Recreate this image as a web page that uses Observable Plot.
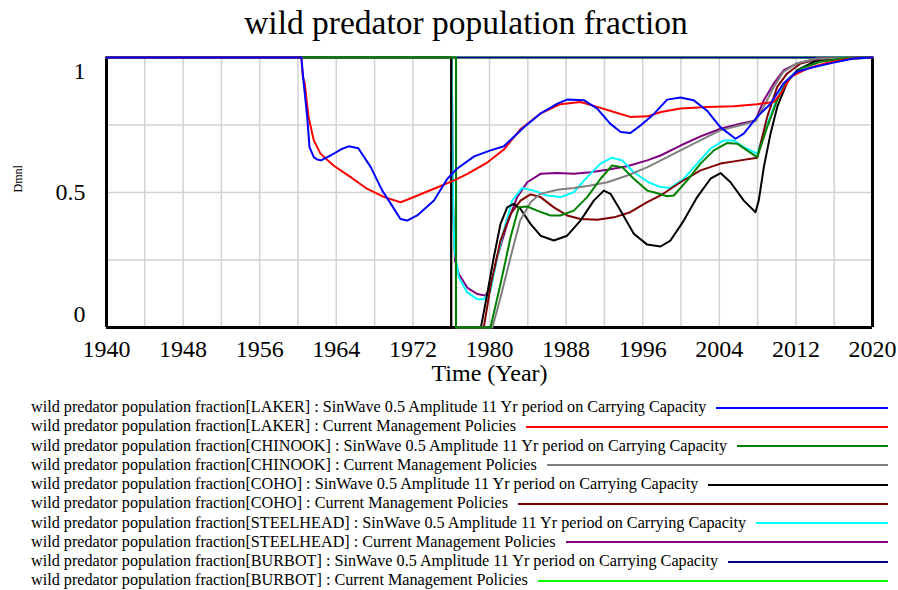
<!DOCTYPE html>
<html><head><meta charset="utf-8">
<script src="https://cdn.jsdelivr.net/npm/d3@7"></script>
<script src="https://cdn.jsdelivr.net/npm/@observablehq/plot@0.6"></script>
<style>
body{margin:0;background:#fff;font-family:"Liberation Serif","Times New Roman",serif;}
#title{height:45px;line-height:45px;font-size:33.5px;text-align:center;padding-left:34px;}
#chart{height:352px;}
#legend{padding-top:1px;}
.row{display:flex;align-items:center;height:19.25px;font-size:16.2px;padding-left:31px;padding-right:10px;white-space:nowrap;}
.row .ln{flex:1;margin-left:10px;height:2px;}
</style></head><body>
<div id="title">wild predator population fraction</div>
<div id="chart"></div>
<div id="legend"></div>
<script>
const xDomain = [1940, 2020];
const xTickYears = [1940, 1948, 1956, 1964, 1972, 1980, 1988, 1996, 2004, 2012, 2020];
const gridYears = [1944, 1948, 1952, 1956, 1960, 1964, 1968, 1972, 1976, 1980, 1984, 1988, 1992, 1996, 2000, 2004, 2008, 2012, 2016];
const gridVals = [0.25, 0.5, 0.75];
const yTicks = [1, 0.5, 0];
const yTickLabels = ["1", "0.5", "0"];

const seriesNames = [
  "wild predator population fraction[LAKER] : SinWave 0.5 Amplitude 11 Yr period on Carrying Capacity",
  "wild predator population fraction[LAKER] : Current Management Policies",
  "wild predator population fraction[CHINOOK] : SinWave 0.5 Amplitude 11 Yr period on Carrying Capacity",
  "wild predator population fraction[CHINOOK] : Current Management Policies",
  "wild predator population fraction[COHO] : SinWave 0.5 Amplitude 11 Yr period on Carrying Capacity",
  "wild predator population fraction[COHO] : Current Management Policies",
  "wild predator population fraction[STEELHEAD] : SinWave 0.5 Amplitude 11 Yr period on Carrying Capacity",
  "wild predator population fraction[STEELHEAD] : Current Management Policies",
  "wild predator population fraction[BURBOT] : SinWave 0.5 Amplitude 11 Yr period on Carrying Capacity",
  "wild predator population fraction[BURBOT] : Current Management Policies"
];
const seriesColors = ["#0000ff", "#ff0000", "#008000", "#808080", "#000000", "#800000", "#00ffff", "#800080", "#000080", "#00ff00"];

const lakerSin = [[1940,1],[1960.35,1],[1960.6,0.904],[1960.96,0.78],[1961.2,0.668],[1961.65,0.631],[1962.0,0.622],[1962.4,0.619],[1963.4,0.637],[1964.5,0.66],[1965.3,0.671],[1966.3,0.664],[1967.6,0.594],[1968.8,0.507],[1969.7,0.458],[1970.7,0.402],[1971.4,0.396],[1972.45,0.415],[1974.2,0.47],[1975.6,0.551],[1976.6,0.588],[1978.4,0.634],[1980.1,0.656],[1981.5,0.671],[1983.6,0.742],[1985.3,0.792],[1987.1,0.829],[1988.1,0.844],[1989.85,0.842],[1991.25,0.811],[1992.6,0.755],[1993.7,0.724],[1994.7,0.72],[1995.8,0.749],[1997.2,0.792],[1998.55,0.844],[1999.95,0.852],[2001.3,0.842],[2002.7,0.804],[2004.1,0.742],[2005.7,0.699],[2006.55,0.718],[2007.95,0.78],[2009.35,0.829],[2010.7,0.904],[2012.1,0.947],[2013.9,0.965],[2015.95,0.981],[2018.05,0.996],[2020,1]];
const lakerCur = [[1940,1],[1960.35,1],[1960.5,0.928],[1960.7,0.905],[1961.1,0.78],[1961.65,0.693],[1962.35,0.644],[1963.7,0.6],[1965.5,0.557],[1967.2,0.514],[1969.0,0.483],[1970.7,0.464],[1971.4,0.473],[1974.2,0.514],[1976.3,0.545],[1977.7,0.569],[1979.8,0.612],[1981.5,0.659],[1983.2,0.733],[1985.3,0.792],[1987.4,0.827],[1989.5,0.835],[1991.25,0.817],[1993.0,0.798],[1994.7,0.78],[1996.5,0.782],[1997.9,0.798],[1999.95,0.811],[2002.7,0.817],[2005.5,0.819],[2007.95,0.827],[2009.7,0.835],[2010.4,0.866],[2011.45,0.928],[2013.2,0.959],[2015.3,0.981],[2017.35,0.994],[2020,1]];
const chinookSin = [[1940,1],[1976.5,1],[1976.5,0],[1980.1,0],[1981.15,0.161],[1982.2,0.334],[1983.06,0.445],[1983.94,0.448],[1984.98,0.433],[1986.37,0.415],[1987.4,0.415],[1988.8,0.433],[1990.2,0.483],[1991.6,0.551],[1992.8,0.6],[1993.86,0.594],[1995.07,0.551],[1996.47,0.507],[1997.16,0.501],[1998.56,0.486],[1999.25,0.489],[2000.65,0.545],[2002.04,0.607],[2003.43,0.656],[2004.8,0.683],[2005.87,0.681],[2006.9,0.656],[2007.96,0.631],[2009.0,0.742],[2010.05,0.842],[2011.1,0.916],[2012.5,0.959],[2014.57,0.984],[2017,0.997],[2020,1]];
const chinookCur = [[1940,1],[1976.5,1],[1976.5,0],[1980.3,0],[1981.15,0.111],[1982.2,0.26],[1983.2,0.396],[1984.3,0.464],[1985.3,0.495],[1987.1,0.51],[1988.8,0.517],[1990.55,0.526],[1992.3,0.538],[1994.4,0.563],[1996.5,0.594],[1997.9,0.619],[1999.95,0.656],[2002.0,0.693],[2004.1,0.73],[2006.2,0.749],[2007.8,0.765],[2008.8,0.829],[2009.7,0.891],[2010.7,0.947],[2012.1,0.978],[2014.2,0.996],[2020,1]];
const cohoSin = [[1940,1],[1976.0,1],[1976.0,0],[1979.1,0],[1979.76,0.124],[1980.45,0.26],[1981.15,0.384],[1981.85,0.445],[1982.54,0.458],[1983.24,0.439],[1984.28,0.384],[1985.33,0.34],[1986.72,0.322],[1988.11,0.34],[1989.5,0.396],[1990.89,0.47],[1991.94,0.507],[1992.64,0.495],[1993.68,0.433],[1995.07,0.347],[1996.47,0.307],[1997.86,0.3],[1998.9,0.322],[2000.29,0.396],[2001.69,0.483],[2003.08,0.551],[2004.13,0.572],[2005.17,0.538],[2006.56,0.47],[2007.78,0.427],[2008.12,0.47],[2008.65,0.594],[2009.35,0.718],[2010.05,0.817],[2011.09,0.909],[2012.14,0.953],[2013.87,0.984],[2016.66,0.996],[2020,1]];
const cohoCur = [[1940,1],[1976.0,1],[1976.0,0],[1979.4,0],[1980.15,0.161],[1981.15,0.322],[1982.2,0.421],[1983.24,0.47],[1984.28,0.493],[1985.33,0.483],[1986.72,0.445],[1988.11,0.415],[1989.5,0.402],[1991.25,0.399],[1993.0,0.408],[1994.7,0.427],[1996.47,0.464],[1997.86,0.489],[1999.95,0.538],[2002.04,0.582],[2004.13,0.607],[2006.2,0.619],[2007.96,0.629],[2009.0,0.78],[2010.05,0.891],[2011.09,0.941],[2012.5,0.978],[2014.57,0.996],[2020,1]];
const steelSin = [[1940,1],[1976.05,1],[1976.2,0.45],[1976.35,0.285],[1976.8,0.186],[1977.67,0.13],[1978.71,0.105],[1979.4,0.105],[1980.1,0.136],[1980.8,0.26],[1981.49,0.359],[1982.37,0.47],[1983.41,0.517],[1984.63,0.507],[1986.03,0.489],[1987.41,0.483],[1988.8,0.501],[1990.2,0.557],[1991.59,0.607],[1992.8,0.629],[1993.86,0.619],[1995.07,0.575],[1996.6,0.538],[1997.86,0.52],[1998.9,0.517],[2000.29,0.551],[2001.69,0.607],[2003.08,0.662],[2004.47,0.693],[2005.51,0.693],[2006.56,0.668],[2007.96,0.644],[2008.65,0.718],[2009.69,0.817],[2010.74,0.904],[2012.14,0.953],[2014.0,0.985],[2020,1]];
const steelCur = [[1940,1],[1976.05,1],[1976.2,0.45],[1976.4,0.248],[1976.8,0.198],[1977.67,0.148],[1978.71,0.124],[1979.58,0.118],[1980.1,0.148],[1980.8,0.26],[1981.85,0.384],[1982.89,0.483],[1983.94,0.538],[1985.33,0.569],[1987.07,0.572],[1988.8,0.569],[1990.55,0.575],[1992.29,0.584],[1994.38,0.597],[1996.47,0.619],[1997.86,0.637],[1999.95,0.674],[2002.04,0.708],[2004.13,0.736],[2006.2,0.755],[2007.78,0.767],[2008.65,0.842],[2009.69,0.904],[2010.74,0.953],[2012.14,0.978],[2014.22,0.996],[2020,1]];
const burbotSin = [[1940,1],[2020,1]];
const burbotCur = [[1940,1],[2020,1]];

const seriesData = [lakerSin, lakerCur, chinookSin, chinookCur, cohoSin, cohoCur, steelSin, steelCur, burbotSin, burbotCur];

const rows = [];
seriesData.forEach((arr, i) => arr.forEach(([year, value], j) => rows.push({series: i, order: j, year, value})));

const lineMarks = [];
for (let i = seriesData.length - 1; i >= 0; i--) {
  lineMarks.push(Plot.line(rows.filter(r => r.series === i), {x: "year", y: "value", stroke: seriesColors[i], strokeWidth: 2, curve: "linear"}));
}

const chart = Plot.plot({
  width: 898, height: 352,
  marginTop: 12, marginLeft: 106, marginRight: 26, marginBottom: 70,
  x: {domain: xDomain},
  y: {domain: [0, 1]},
  style: {fontFamily: "'Liberation Serif','Times New Roman',serif", background: "white", color: "black"},
  marks: [
    Plot.gridX(gridYears, {stroke: "#d2d2d2", strokeOpacity: 1, strokeWidth: 1.5}),
    Plot.gridY(gridVals, {stroke: "#d2d2d2", strokeOpacity: 1, strokeWidth: 1.5}),
    Plot.ruleX(xDomain, {stroke: "black", strokeWidth: 3}),
    Plot.ruleY([0], {stroke: "black", strokeWidth: 3}),
    ...lineMarks,
    Plot.axisX(xTickYears, {tickSize: 0, tickPadding: 12, fontSize: 24, tickFormat: d => String(d), label: null}),
    Plot.axisY([], {label: null}),
    Plot.text([yTicks[0]], {y: d => d, text: () => yTickLabels[0], frameAnchor: "left", textAnchor: "end", dx: -21, dy: 14, fontSize: 24}),
    Plot.text([yTicks[1]], {y: d => d, text: () => yTickLabels[1], frameAnchor: "left", textAnchor: "end", dx: -21, dy: 0, fontSize: 24}),
    Plot.text([yTicks[2]], {y: d => d, text: () => yTickLabels[2], frameAnchor: "left", textAnchor: "end", dx: -21, dy: -13, fontSize: 24}),
    Plot.text(["Dmnl"], {frameAnchor: "left", rotate: -90, dx: -88, fontSize: 12}),
    Plot.text(["Time (Year)"], {frameAnchor: "bottom", dy: 53, fontSize: 24})
  ]
});
document.getElementById("chart").appendChild(chart);

const legend = document.getElementById("legend");
seriesNames.forEach((name, i) => {
  const row = document.createElement("div");
  row.className = "row";
  const t = document.createElement("span");
  t.textContent = name;
  const ln = document.createElement("div");
  ln.className = "ln";
  ln.style.background = seriesColors[i];
  row.appendChild(t);
  row.appendChild(ln);
  legend.appendChild(row);
});
</script></body></html>
